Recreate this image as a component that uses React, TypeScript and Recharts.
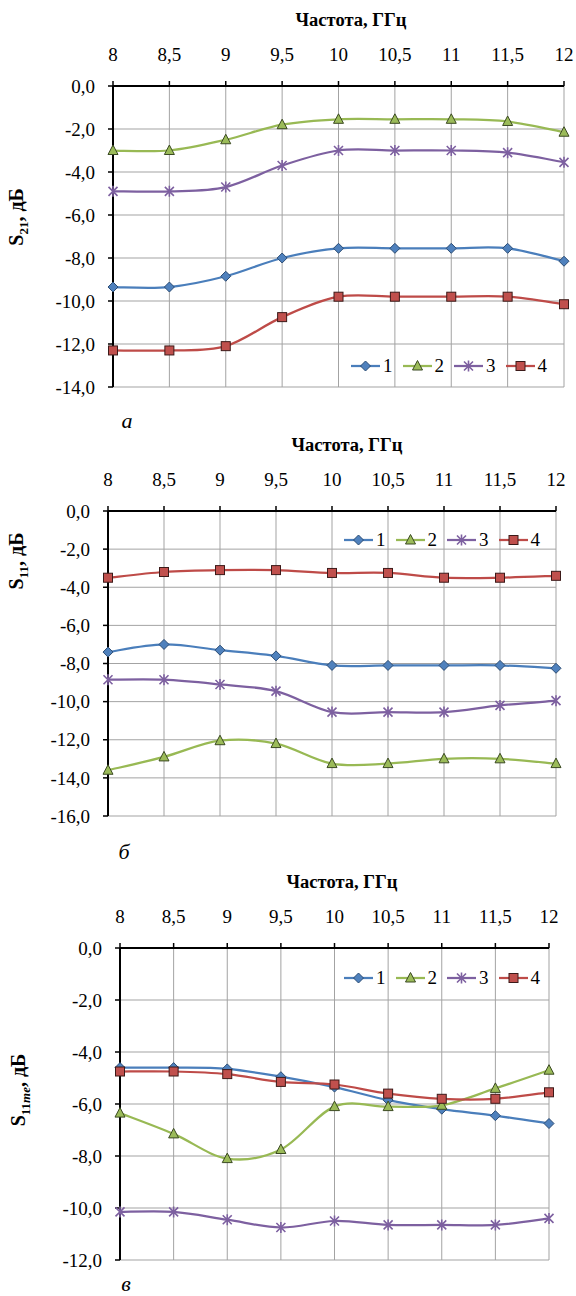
import React from 'react';
import { LineChart, Line, XAxis, YAxis, CartesianGrid, Legend } from 'recharts';

// ---------- data ----------
const freqs = [8, 8.5, 9, 9.5, 10, 10.5, 11, 11.5, 12];
const seriesNames = ['1', '2', '3', '4'];

// (а) S21
const s21_1 = [-9.35, -9.35, -8.85, -8.0, -7.55, -7.55, -7.55, -7.55, -8.15];
const s21_2 = [-3.0, -3.0, -2.5, -1.8, -1.55, -1.55, -1.55, -1.65, -2.15];
const s21_3 = [-4.9, -4.9, -4.7, -3.7, -3.0, -3.0, -3.0, -3.1, -3.55];
const s21_4 = [-12.3, -12.3, -12.1, -10.75, -9.8, -9.8, -9.8, -9.8, -10.15];
const yTicksA = [0, -2, -4, -6, -8, -10, -12, -14];

// (б) S11
const s11_1 = [-7.4, -7.0, -7.3, -7.6, -8.1, -8.1, -8.1, -8.1, -8.25];
const s11_2 = [-13.6, -12.9, -12.05, -12.2, -13.25, -13.25, -13.0, -13.0, -13.25];
const s11_3 = [-8.85, -8.85, -9.1, -9.45, -10.55, -10.55, -10.55, -10.2, -9.95];
const s11_4 = [-3.5, -3.2, -3.1, -3.1, -3.25, -3.25, -3.5, -3.5, -3.4];
const yTicksB = [0, -2, -4, -6, -8, -10, -12, -14, -16];

// (в) S11me
const s11me_1 = [-4.6, -4.6, -4.65, -4.95, -5.35, -5.85, -6.2, -6.45, -6.75];
const s11me_2 = [-6.35, -7.15, -8.1, -7.75, -6.1, -6.1, -6.05, -5.4, -4.7];
const s11me_3 = [-10.15, -10.15, -10.45, -10.75, -10.5, -10.65, -10.65, -10.65, -10.4];
const s11me_4 = [-4.75, -4.75, -4.85, -5.15, -5.25, -5.6, -5.8, -5.8, -5.55];
const yTicksC = [0, -2, -4, -6, -8, -10, -12];

const xTitle = 'Частота, ГГц';

// ---------- styles ----------
const SERIF = '"Liberation Serif", "Times New Roman", "DejaVu Serif", serif';
const LINE_COLORS = ['#4A7EBB', '#98B954', '#7D60A0', '#BE4B48'];
const TICK_FS = 19;

// Excel-like smoothing (Catmull-Rom) curve factory
const smoothCurve: any = (context: any) => {
  let pts: number[][] = [];
  return {
    areaStart() {},
    areaEnd() {},
    lineStart() {
      pts = [];
    },
    lineEnd() {
      if (!pts.length) return;
      context.moveTo(pts[0][0], pts[0][1]);
      for (let i = 0; i < pts.length - 1; i++) {
        const p0 = pts[i - 1] || pts[i];
        const p1 = pts[i];
        const p2 = pts[i + 1];
        const p3 = pts[i + 2] || pts[i + 1];
        context.bezierCurveTo(
          p1[0] + (p2[0] - p0[0]) / 6,
          p1[1] + (p2[1] - p0[1]) / 6,
          p2[0] - (p3[0] - p1[0]) / 6,
          p2[1] - (p3[1] - p1[1]) / 6,
          p2[0],
          p2[1]
        );
      }
    },
    point(x: number, y: number) {
      pts.push([+x, +y]);
    },
  };
};

function Marker({ kind, cx, cy }: { kind: number; cx: number; cy: number }) {
  if (kind === 0) {
    return (
      <path
        d={`M${cx},${cy - 5}L${cx + 5},${cy}L${cx},${cy + 5}L${cx - 5},${cy}Z`}
        fill="#4F81BD"
        stroke="#2C4D75"
        strokeWidth={1}
      />
    );
  }
  if (kind === 1) {
    return (
      <path
        d={`M${cx},${cy - 5.5}L${cx + 5},${cy + 4}L${cx - 5},${cy + 4}Z`}
        fill="#9BBB59"
        stroke="#3B4A22"
        strokeWidth={1}
      />
    );
  }
  if (kind === 2) {
    const r = 4.5;
    return (
      <path
        d={`M${cx - r},${cy - r}L${cx + r},${cy + r}M${cx - r},${cy + r}L${cx + r},${cy - r}M${cx},${cy - r - 1}L${cx},${cy + r + 1}`}
        stroke="#7D60A0"
        strokeWidth={1.6}
        fill="none"
      />
    );
  }
  return (
    <rect x={cx - 4.5} y={cy - 4.5} width={9} height={9} fill="#C0504D" stroke="#3C1A19" strokeWidth={1} />
  );
}

const makeDot = (kind: number) => (props: any) => {
  const { cx, cy, index } = props;
  if (cx == null || cy == null) return <g key={`d${kind}-${index}`} />;
  return (
    <g key={`d${kind}-${index}`}>
      <Marker kind={kind} cx={cx} cy={cy} />
    </g>
  );
};

function LegendContent() {
  return (
    <div style={{ display: 'flex', alignItems: 'center', fontFamily: SERIF, fontSize: 19, color: '#000', lineHeight: '18px' }}>
      {seriesNames.map((n, i) => (
        <div key={n} style={{ display: 'flex', alignItems: 'center', marginRight: 10 }}>
          <svg width={29} height={14} style={{ display: 'block' }}>
            <line x1={0} y1={7} x2={29} y2={7} stroke={LINE_COLORS[i]} strokeWidth={2.25} />
            <Marker kind={i} cx={14.5} cy={7} />
          </svg>
          <span style={{ marginLeft: 3 }}>{n}</span>
        </div>
      ))}
    </div>
  );
}

const fmtX = (v: number) => String(v).replace('.', ',');
const fmtY = (v: number) => v.toFixed(1).replace('.', ',');

const tickStyle = { fill: '#000', fontFamily: SERIF, fontSize: TICK_FS };

type PanelProps = {
  series: number[][];
  yTicks: number[];
  L: number;
  R: number;
  PT: number;
  PB: number;
  titleX: number;
  legendX: number;
  legendY: number;
  yTitle: React.ReactNode;
  yTitleX: number;
  yTitleY: number;
  letter: string;
  letterX: number;
  letterY: number;
};

function Panel(p: PanelProps) {
  const data = freqs.map((f, i) => {
    const row: any = { f };
    p.series.forEach((s, k) => {
      row['s' + (k + 1)] = s[i];
    });
    return row;
  });
  const top = p.PT - 60;
  const height = p.PB - p.PT + 80;
  const yMin = p.yTicks[p.yTicks.length - 1];
  return (
    <>
      <div
        style={{
          position: 'absolute',
          left: p.titleX,
          top: p.PT - 66,
          transform: 'translate(-50%, -50%)',
          fontFamily: SERIF,
          fontWeight: 'bold',
          fontSize: 18.5,
          whiteSpace: 'nowrap',
          lineHeight: '20px',
        }}
      >
        {xTitle}
      </div>
      <div
        style={{
          position: 'absolute',
          left: p.yTitleX,
          top: p.yTitleY,
          transform: 'translate(-50%, -50%) rotate(-90deg)',
          fontFamily: SERIF,
          fontWeight: 'bold',
          fontSize: 20,
          whiteSpace: 'nowrap',
          lineHeight: '22px',
        }}
      >
        {p.yTitle}
      </div>
      <div
        style={{
          position: 'absolute',
          left: p.letterX,
          top: p.letterY,
          transform: 'translate(-50%, -50%)',
          fontFamily: SERIF,
          fontStyle: 'italic',
          fontSize: 22,
          lineHeight: '22px',
        }}
      >
        {p.letter}
      </div>
      <div style={{ position: 'absolute', left: 0, top, fontFamily: SERIF }}>
        <LineChart
          width={576}
          height={height}
          data={data}
          margin={{ top: 20, right: 576 - p.R, bottom: 20, left: p.L - 60 }}
        >
          <CartesianGrid stroke="#a3a3a3" strokeWidth={1} />
          <XAxis
            dataKey="f"
            type="number"
            orientation="top"
            domain={[8, 12]}
            ticks={freqs}
            interval={0}
            tickFormatter={fmtX}
            height={40}
            axisLine={{ stroke: '#000', strokeWidth: 2 }}
            tickLine={{ stroke: '#000', strokeWidth: 1.5 }}
            tickSize={5}
            tickMargin={20}
            tick={tickStyle}
          />
          <YAxis
            type="number"
            domain={[yMin, 0]}
            ticks={p.yTicks}
            interval={0}
            tickFormatter={fmtY}
            width={60}
            axisLine={{ stroke: '#000', strokeWidth: 2 }}
            tickLine={{ stroke: '#000', strokeWidth: 1.5 }}
            tickSize={5}
            tickMargin={13}
            tick={tickStyle}
          />
          {p.series.map((_, k) => (
            <Line
              key={k}
              dataKey={'s' + (k + 1)}
              name={seriesNames[k]}
              type={smoothCurve}
              stroke={LINE_COLORS[k]}
              strokeWidth={2.25}
              dot={makeDot(k)}
              activeDot={false}
              isAnimationActive={false}
            />
          ))}
          <Legend
            layout="horizontal"
            verticalAlign="middle"
            align="center"
            content={<LegendContent />}
            wrapperStyle={{ position: 'absolute', left: p.legendX, top: p.legendY - top - 9, width: 'auto' }}
          />
        </LineChart>
      </div>
    </>
  );
}

export default function App() {
  return (
    <div style={{ position: 'absolute', left: 0, top: 0, width: 576, height: 1296, background: '#fff', overflow: 'hidden', fontFamily: SERIF }}>
      <Panel
        series={[s21_1, s21_2, s21_3, s21_4]}
        yTicks={yTicksA}
        L={113}
        R={564}
        PT={86}
        PB={387}
        titleX={351}
        legendX={351}
        legendY={366}
        yTitle={
          <span>
            S<sub style={{ fontSize: 13 }}>21</sub>, дБ
          </span>
        }
        yTitleX={20}
        yTitleY={217}
        letter="а"
        letterX={127}
        letterY={421}
      />
      <Panel
        series={[s11_1, s11_2, s11_3, s11_4]}
        yTicks={yTicksB}
        L={108}
        R={556}
        PT={511}
        PB={816}
        titleX={347}
        legendX={344}
        legendY={540}
        yTitle={
          <span>
            S<sub style={{ fontSize: 13 }}>11</sub>, дБ
          </span>
        }
        yTitleX={20}
        yTitleY={561}
        letter="б"
        letterX={124}
        letterY={852}
      />
      <Panel
        series={[s11me_1, s11me_2, s11me_3, s11me_4]}
        yTicks={yTicksC}
        L={120}
        R={549}
        PT={948}
        PB={1260}
        titleX={342}
        legendX={344}
        legendY={978}
        yTitle={
          <span>
            S
            <sub style={{ fontSize: 13 }}>
              11<i>me</i>
            </sub>
            , дБ
          </span>
        }
        yTitleX={22}
        yTitleY={1090}
        letter="в"
        letterX={126}
        letterY={1284}
      />
    </div>
  );
}
